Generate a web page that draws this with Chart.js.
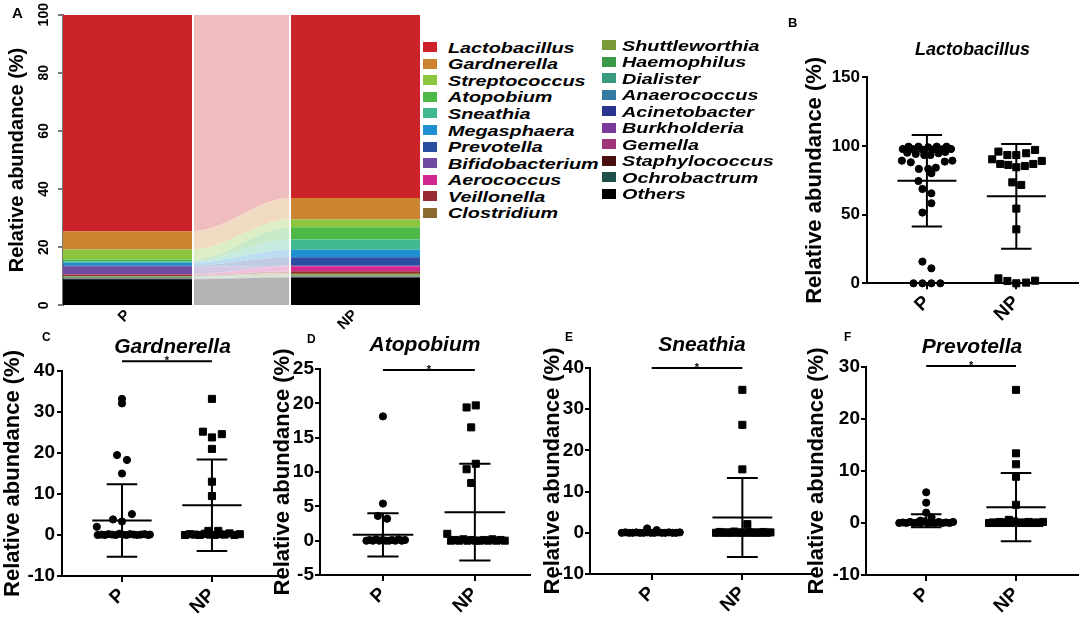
<!DOCTYPE html>
<html>
<head>
<meta charset="utf-8">
<script src="https://cdn.jsdelivr.net/npm/chart.js@4.4.1/dist/chart.umd.min.js"></script>
<style>
  html, body { margin: 0; padding: 0; background: #fff; }
  body { width: 1084px; height: 622px; position: relative; overflow: hidden; font-family: "Liberation Sans", Arial, sans-serif; }
  canvas { position: absolute; }
  .tag { position: absolute; font-weight: bold; color: #000; line-height: 1; }
  .swatch { position: absolute; width: 14px; height: 10px; }
  .name { position: absolute; font-size: 15px; line-height: 15px; font-weight: bold; font-style: italic; color: #000; white-space: nowrap; transform: scaleX(1.32); transform-origin: left center; }
</style>
</head>
<body>
<canvas id="chartA" width="420" height="330" style="left:0;top:0"></canvas>
<canvas id="chartB" width="304" height="330" style="left:780px;top:0"></canvas>
<canvas id="chartC" width="290" height="302" style="left:0;top:320px"></canvas>
<canvas id="chartD" width="270" height="302" style="left:270px;top:320px"></canvas>
<canvas id="chartE" width="280" height="302" style="left:540px;top:320px"></canvas>
<canvas id="chartF" width="280" height="302" style="left:804px;top:320px"></canvas>
<div class="tag" style="left:12px;top:5px;font-size:15px">A</div>
<div class="tag" style="left:788px;top:16px;font-size:13px">B</div>
<div class="tag" style="left:42px;top:331px;font-size:12px">C</div>
<div class="tag" style="left:307px;top:333px;font-size:12px">D</div>
<div class="tag" style="left:565px;top:331px;font-size:12px">E</div>
<div class="tag" style="left:844px;top:331px;font-size:12px">F</div>
<div id="legendA"></div>
<script>
Chart.defaults.font.family = '"Liberation Sans", Arial, sans-serif';
Chart.defaults.color = '#000';

// panel A: mean composition, legend order (top of the stack first)
const taxa = ['Lactobacillus', 'Gardnerella', 'Streptococcus', 'Atopobium', 'Sneathia', 'Megasphaera',
  'Prevotella', 'Bifidobacterium', 'Aerococcus', 'Veillonella', 'Clostridium', 'Shuttleworthia',
  'Haemophilus', 'Dialister', 'Anaerococcus', 'Acinetobacter', 'Burkholderia', 'Gemella',
  'Staphylococcus', 'Ochrobactrum', 'Others'];
const taxaColors = ['#cc2229', '#cc8431', '#8cc63f', '#4cb848', '#40b98f', '#1e8fd0',
  '#2a4fa0', '#6f4aa0', '#d0288f', '#992b35', '#8b6a30', '#7a9a3a',
  '#3a9a48', '#3a9a80', '#357aa0', '#2a3590', '#7a3a9a', '#a0357a',
  '#4a1010', '#1f4f4a', '#000000'];
const abundP = [74.5, 6.3, 3.4, 0.6, 0.6, 0.9, 0.4, 2.7, 0.1, 0.5, 0.1, 0.1,
  0.3, 0.2, 0.05, 0.05, 0.05, 0.05, 0.05, 0.05, 9.0];
const abundNP = [63.1, 7.4, 2.6, 4.3, 3.5, 2.6, 2.9, 0.2, 1.7, 0.6, 0.5, 0.4,
  0.2, 0.1, 0.05, 0.05, 0.05, 0.05, 0.05, 0.05, 9.6];

const groups = ['P', 'NP'];

// panel B-F: per-sample values and the horizontal scatter of each dot (category units)
const lactoP = [97.8, 99.5, 97.8, 99.5, 97.3, 99.0, 97.3, 99.5, 97.6, 99.5, 97.8,
  95.1, 94.2, 93.4, 93.4, 94.7, 95.6, 89.3, 88.1, 88.6, 89.3,
  83.3, 83.3, 84.2, 80.1, 74.5, 68.7, 65.5, 58.3, 51.5, 15.8, 10.9, 0, 0, 0, 0];
const lactoPJit = [-0.27, -0.205, -0.16, -0.095, -0.05, 0.015, 0.06, 0.11, 0.17, 0.22, 0.27,
  -0.22, -0.125, -0.03, 0.04, 0.13, 0.205, -0.28, -0.18, 0.2, 0.285,
  -0.09, 0.015, 0.1, 0.05, -0.095, -0.05, 0.05, 0.05, -0.05, -0.05, 0.05, -0.15, -0.05, 0.05, 0.15];
const lactoNP = [95.9, 93.4, 93.4, 94.7, 97.1, 90.3, 86.9, 86.2, 84.5, 85.4, 86.9, 89.1,
  73.5, 71.6, 54.4, 39.3, 3.6, 1.7, 0, 0.5, 1.9];
const lactoNPJit = [-0.2, -0.1, 0, 0.11, 0.21, -0.27, -0.18, -0.09, 0, 0.095, 0.19, 0.285,
  -0.045, 0.055, 0, 0, -0.2, -0.1, 0, 0.11, 0.21];
const lactoMean = [74.65, 63.35];
const lactoSd = [33.35, 38.15];

const gardP = [33.2, 32.1, 19.5, 18.3, 15.0, 5.1, 3.8, 3.3, 2.0,
  0, 0.1, 0, 0.2, 0.1, 0, 0.3, 0.1, 0, 0.2, 0.1, 0, 0.1, 0.2, 0, 0.1];
const gardPJit = [0, 0, -0.055, 0.055, 0, 0.11, -0.1, 0, -0.28,
  -0.27, -0.23, -0.19, -0.15, -0.11, -0.07, -0.03, 0.01, 0.05, 0.09, 0.13, 0.17, 0.21, 0.25, 0.29, 0.31];
const gardNP = [33.2, 25.2, 23.8, 24.6, 21.0, 13.0, 9.5, 1.0, 1.0,
  0, 0.2, 0.1, 0, 0.3, 0.1, 0, 0.2, 0.1, 0.4, 0, 0.2];
const gardNPJit = [0, -0.1, 0, 0.11, 0, 0, 0, -0.04, 0.07,
  -0.3, -0.245, -0.19, -0.135, -0.08, -0.025, 0.03, 0.085, 0.14, 0.195, 0.25, 0.31];
const gardMean = [3.55, 7.25];
const gardSd = [8.85, 11.15];

const atoP = [18.1, 5.4, 3.6, 3.2, 0, 0.1, 0, 0.2, 0, 0.1, 0, 0, 0.1, 0, 0.2, 0, 0.1];
const atoPJit = [0, 0, -0.055, 0.045, -0.18, -0.145, -0.11, -0.075, -0.04, -0.005, 0.03, 0.065, 0.1, 0.135, 0.17, 0.205, 0.24];
const atoNP = [19.4, 19.7, 16.5, 11.2, 10.4, 8.4, 1.0, 0, 0.1, 0, 0.2, 0, 0.1, 0, 0, 0.1, 0, 0.2, 0, 0.1, 0];
const atoNPJit = [-0.09, 0.01, -0.04, 0.01, -0.09, -0.04, -0.3, -0.26, -0.215, -0.17, -0.125, -0.08, -0.035,
  0.01, 0.055, 0.1, 0.145, 0.19, 0.235, 0.28, 0.325];
const atoMean = [0.85, 4.15];
const atoSd = [3.15, 7.05];

const sneP = [1.05, 0.65, 0, 0.1, 0, 0, 0.1, 0, 0, 0.1, 0, 0, 0.1, 0, 0, 0.1, 0, 0, 0.1];
const snePJit = [-0.05, 0.055, -0.33, -0.29, -0.25, -0.21, -0.17, -0.13, -0.09, -0.05, -0.01, 0.03,
  0.07, 0.11, 0.15, 0.19, 0.23, 0.27, 0.31];
const sneNP = [34.7, 26.2, 15.4, 2.1, 0, 0.2, 0, 0.1, 0, 0.3, 0, 0.1, 0, 0.2, 0, 0.1, 0, 0.2, 0, 0.1];
const sneNPJit = [0, 0, 0, 0.055, -0.29, -0.25, -0.21, -0.17, -0.13, -0.09, -0.05, -0.01, 0.03,
  0.07, 0.11, 0.15, 0.19, 0.23, 0.27, 0.31];
const sneMean = [0.1, 3.7];
const sneSd = [0.25, 9.6];

const prevP = [5.9, 3.9, 2.0, 1.1, 0.45, 0, 0.1, 0, 0.2, 0, 0.1, 0, 0.3, 0, 0.1, 0, 0.2, 0, 0.1, 0, 0.2];
const prevPJit = [0, 0, 0, 0.06, -0.065, -0.3, -0.26, -0.22, -0.18, -0.14, -0.1, -0.06, -0.02,
  0.02, 0.06, 0.1, 0.14, 0.18, 0.22, 0.26, 0.3];
const prevNP = [25.6, 13.4, 11.3, 8.9, 3.5, 0.6, 0, 0.1, 0, 0.2, 0, 0.1, 0, 0.3, 0, 0.1, 0, 0.2, 0, 0.1, 0, 0.2];
const prevNPJit = [0, 0, 0, 0, 0, -0.08, -0.3, -0.26, -0.22, -0.18, -0.14, -0.1, -0.06, -0.02,
  0.02, 0.06, 0.1, 0.14, 0.18, 0.22, 0.26, 0.3];
const prevMean = [0.45, 3.05];
const prevSd = [1.25, 6.55];

// ---------- legend for A ----------
const legendBox = document.getElementById('legendA');
taxa.forEach((name, i) => {
  const col = i < 11 ? 0 : 1;
  const row = col ? i - 11 : i;
  const cy = col ? 45 + 16.5 * row : 47.2 + 16.55 * row;
  const sw = document.createElement('div');
  sw.className = 'swatch';
  sw.style.left = (col ? 602 : 423) + 'px';
  sw.style.top = (cy - 5) + 'px';
  sw.style.background = taxaColors[i];
  legendBox.appendChild(sw);
  const tx = document.createElement('div');
  tx.className = 'name';
  tx.textContent = name;
  tx.style.left = (col ? 622 : 448) + 'px';
  tx.style.top = (cy - 7.4) + 'px';
  legendBox.appendChild(tx);
});

// ---------- panel A: stacked columns joined by a faded band ----------
const colEdges = [0, 1, 1.75, 2.75]; // P column, gap, NP column

function paler(hex) {
  const n = parseInt(hex.slice(1), 16);
  const mix = c => Math.round(255 - (255 - c) * 0.3);
  return `rgb(${mix(n >> 16)},${mix((n >> 8) & 255)},${mix(n & 255)})`;
}

function columnFill(color) {
  return (ctx) => {
    const chart = ctx.chart;
    const xs = chart.scales.x;
    if (!chart.chartArea || !xs) return color;
    const x0 = xs.getPixelForValue(colEdges[0]);
    const x3 = xs.getPixelForValue(colEdges[3]);
    const f1 = (xs.getPixelForValue(colEdges[1]) - x0) / (x3 - x0);
    const f2 = (xs.getPixelForValue(colEdges[2]) - x0) / (x3 - x0);
    const pale = paler(color);
    const g = chart.ctx.createLinearGradient(x0, 0, x3, 0);
    g.addColorStop(0, color);
    g.addColorStop(f1, color);
    g.addColorStop(f1, pale);
    g.addColorStop(f2, pale);
    g.addColorStop(f2, color);
    g.addColorStop(1, color);
    return g;
  };
}

const stackDatasets = [];
for (let i = taxa.length - 1; i >= 0; i--) {
  stackDatasets.push({
    label: taxa[i],
    data: [
      { x: colEdges[0], y: abundP[i] },
      { x: colEdges[1], y: abundP[i] },
      { x: colEdges[2], y: abundNP[i] },
      { x: colEdges[3], y: abundNP[i] }
    ],
    backgroundColor: columnFill(taxaColors[i]),
    borderWidth: 0,
    pointRadius: 0,
    cubicInterpolationMode: 'monotone',
    fill: stackDatasets.length === 0 ? 'origin' : '-1'
  });
}

const labelTicksA = { 0.5: 'P', 2.25: 'NP' };

new Chart(document.getElementById('chartA'), {
  type: 'line',
  data: { datasets: stackDatasets },
  options: {
    responsive: false,
    animation: false,
    events: [],
    layout: { padding: { top: 14.7, right: 0, left: 0, bottom: 0 } },
    plugins: { legend: { display: false }, tooltip: { enabled: false } },
    scales: {
      x: {
        type: 'linear',
        min: colEdges[0],
        max: colEdges[3],
        afterBuildTicks: s => { s.ticks = [0.5, 1, 1.75, 2.25].map(v => ({ value: v })); },
        afterFit: s => { s.height = 24.7; },
        grid: {
          z: 1,
          drawTicks: false,
          lineWidth: 2,
          color: c => (c.tick && (c.tick.value === 1 || c.tick.value === 1.75)) ? '#ffffff' : 'rgba(0,0,0,0)'
        },
        border: { display: false },
        ticks: {
          autoSkip: false,
          minRotation: 45,
          maxRotation: 45,
          padding: 1,
          font: { size: 15, weight: 'bold' },
          callback: v => labelTicksA[v] || ''
        }
      },
      y: {
        stacked: true,
        min: 0,
        max: 100,
        afterFit: s => { s.width = 63; },
        grid: { drawOnChartArea: false, color: '#777', lineWidth: 2, tickLength: 5 },
        border: { color: '#777', width: 2 },
        ticks: {
          stepSize: 20,
          minRotation: 90,
          crossAlign: 'center',
          padding: 2,
          font: { size: 14, weight: 'bold' }
        },
        title: {
          display: true,
          text: 'Relative abundance (%)',
          font: { size: 20, weight: 'bold' },
          padding: { top: 5, bottom: 0 }
        }
      }
    }
  }
});

// ---------- panels B-F: dot plots with mean and SD ----------
const sigStar = {
  id: 'sigStar',
  afterDatasetsDraw(chart, args, opts) {
    if (opts.y === null || opts.y === undefined) return;
    const { ctx, scales } = chart;
    ctx.save();
    ctx.fillStyle = '#000';
    ctx.font = 'bold 11px "Liberation Sans", Arial, sans-serif';
    ctx.textAlign = 'center';
    ctx.textBaseline = 'alphabetic';
    ctx.fillText('*', scales.x.getPixelForValue(1.5), scales.y.getPixelForValue(opts.y) + 3);
    ctx.restore();
  }
};

function errorBar(c, mean, sd) {
  const hi = mean + sd;
  const lo = mean - sd;
  return [
    { x: c - 0.33, y: mean }, { x: c + 0.33, y: mean }, { x: c, y: null },
    { x: c, y: lo }, { x: c, y: hi }, { x: c, y: null },
    { x: c - 0.17, y: hi }, { x: c + 0.17, y: hi }, { x: c, y: null },
    { x: c - 0.17, y: lo }, { x: c + 0.17, y: lo }
  ];
}

const lineSet = { showLine: true, pointRadius: 0, borderColor: '#000', borderWidth: 2, spanGaps: false, clip: false };

function dots(vals, jit, c, style, r) {
  return {
    data: vals.map((v, i) => ({ x: c + jit[i], y: v })),
    pointStyle: style,
    pointRadius: r,
    pointBackgroundColor: '#000',
    pointBorderColor: '#000',
    pointBorderWidth: 1,
    showLine: false,
    clip: false
  };
}

function dotPanel(id, title, p, pJit, np, npJit, means, sds, sigY, box) {
  const datasets = [
    dots(p, pJit, 1, 'circle', box.dot),
    dots(np, npJit, 2, 'rect', box.square),
    { ...lineSet, data: errorBar(1, means[0], sds[0]) },
    { ...lineSet, data: errorBar(2, means[1], sds[1]) }
  ];
  if (sigY !== null) {
    datasets.push({ ...lineSet, data: [{ x: 1, y: sigY }, { x: 2, y: sigY }] });
  }
  new Chart(document.getElementById(id), {
    type: 'scatter',
    data: { datasets },
    plugins: [sigStar],
    options: {
      responsive: false,
      animation: false,
      events: [],
      layout: { padding: { left: 0, top: 0, right: box.padRight, bottom: 0 } },
      plugins: {
        legend: { display: false },
        tooltip: { enabled: false },
        sigStar: { y: sigY },
        title: {
          display: true,
          text: title,
          fullSize: false,
          color: '#000',
          font: { size: box.titleSize, weight: 'bold', style: 'italic' },
          padding: { top: box.titleTop, bottom: box.titleBottom }
        }
      },
      scales: {
        x: {
          type: 'linear',
          min: box.xMin,
          max: box.xMax,
          afterBuildTicks: s => { s.ticks = [{ value: 1 }, { value: 2 }]; },
          afterFit: s => { s.height = box.xHeight; },
          grid: { drawOnChartArea: false, color: '#000', lineWidth: 2, tickLength: 6 },
          border: { color: '#000', width: 2 },
          ticks: {
            autoSkip: false,
            minRotation: 45,
            maxRotation: 45,
            padding: 2,
            font: { size: box.xTickSize, weight: 'bold' },
            callback: v => groups[v - 1]
          }
        },
        y: {
          min: box.yMin,
          max: box.yMax,
          afterFit: s => { s.width = box.yWidth; },
          grid: { drawOnChartArea: false, color: '#000', lineWidth: 2, tickLength: 5 },
          border: { color: '#000', width: 2 },
          ticks: { stepSize: box.step, padding: box.tickPad, font: { size: box.tickSize, weight: 'bold' } },
          title: {
            display: true,
            text: 'Relative abundance (%)',
            font: { size: 22, weight: 'bold' },
            padding: { top: box.yTitlePad, bottom: 0 }
          }
        }
      }
    }
  });
}

dotPanel('chartB', 'Lactobacillus', lactoP, lactoPJit, lactoNP, lactoNPJit, lactoMean, lactoSd, null, {
  yMin: 0, yMax: 150, step: 50, xMin: 0.33, xMax: 2.69,
  yWidth: 87, xHeight: 46.7, padRight: 2, titleSize: 18, titleTop: 39.2, titleBottom: 16.5,
  tickSize: 17, xTickSize: 19, tickPad: 2, yTitlePad: 21.8, dot: 3.6, square: 5
});
dotPanel('chartC', 'Gardnerella', gardP, gardPJit, gardNP, gardNPJit, gardMean, gardSd, 42.4, {
  yMin: -10, yMax: 40, step: 10, xMin: 0.333, xMax: 2.79,
  yWidth: 62, xHeight: 46, padRight: 7, titleSize: 21, titleTop: 14.4, titleBottom: 11.4,
  tickSize: 19, xTickSize: 19, tickPad: 2, yTitlePad: 0, dot: 3.6, square: 5
});
dotPanel('chartD', 'Atopobium', atoP, atoPJit, atoNP, atoNPJit, atoMean, atoSd, 24.85, {
  yMin: -5, yMax: 25, step: 5, xMin: 0.315, xMax: 2.6,
  yWidth: 50, xHeight: 47, padRight: 10, titleSize: 21, titleTop: 12.4, titleBottom: 11.4,
  tickSize: 19, xTickSize: 19, tickPad: 1, yTitlePad: 0, dot: 3.6, square: 5
});
dotPanel('chartE', 'Sneathia', sneP, snePJit, sneNP, sneNPJit, sneMean, sneSd, 40, {
  yMin: -10, yMax: 40, step: 10, xMin: 0.32, xMax: 2.79,
  yWidth: 50, xHeight: 48, padRight: 5, titleSize: 21, titleTop: 12.4, titleBottom: 10.4,
  tickSize: 19, xTickSize: 19, tickPad: 1, yTitlePad: 0, dot: 3.6, square: 5
});
dotPanel('chartF', 'Prevotella', prevP, prevPJit, prevNP, prevNPJit, prevMean, prevSd, 30.2, {
  yMin: -10, yMax: 30, step: 10, xMin: 0.33, xMax: 2.69,
  yWidth: 62, xHeight: 47, padRight: 3, titleSize: 21, titleTop: 14.4, titleBottom: 7.4,
  tickSize: 19, xTickSize: 19, tickPad: 1, yTitlePad: 0, dot: 3.6, square: 5
});
</script>
</body>
</html>
